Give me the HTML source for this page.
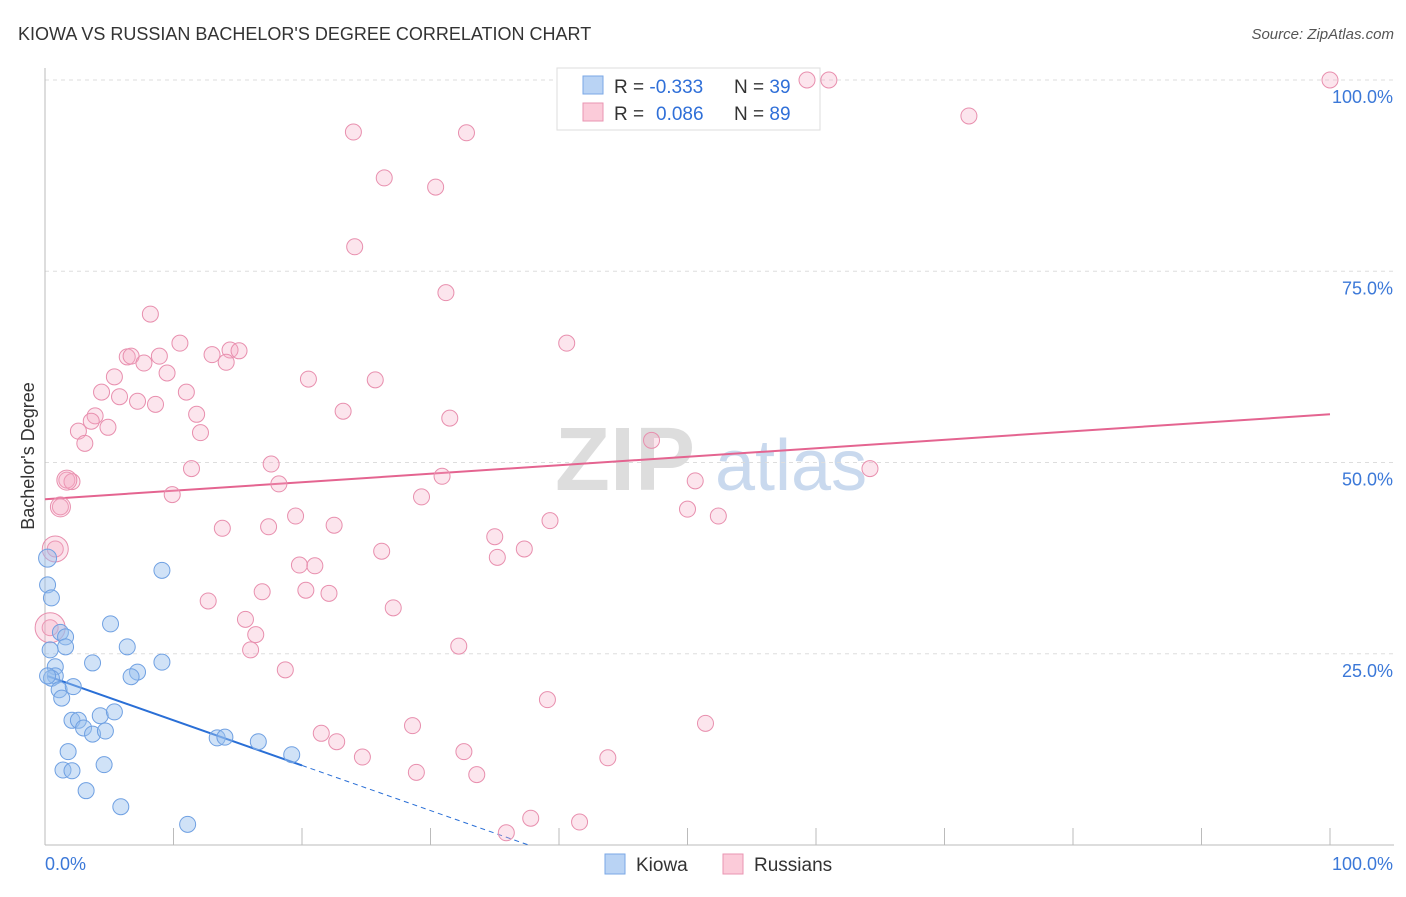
<!DOCTYPE html>
<html><head><meta charset="utf-8"><style>
body{margin:0;background:#fff;font-family:"Liberation Sans",sans-serif}
svg text{font-family:"Liberation Sans",sans-serif}
</style></head><body>
<svg id="chart" width="1406" height="892" viewBox="0 0 1406 892">
<text x="18" y="40" font-size="18" fill="#333">KIOWA VS RUSSIAN BACHELOR'S DEGREE CORRELATION CHART</text>
<text x="1394" y="39" font-size="15" fill="#555" text-anchor="end" font-style="italic">Source: ZipAtlas.com</text>
<text transform="translate(34,456) rotate(-90)" font-size="18" fill="#333" text-anchor="middle">Bachelor's Degree</text>
<g><text x="555" y="490" font-size="90" fill="#ddd" font-family="Liberation Serif" font-weight="bold">ZIP</text><text x="715" y="490" font-size="72" fill="#c9d9ee">atlas</text></g>
<g id="grid"></g><g id="axes"></g>
<g>
<rect x="557" y="68" width="263" height="62" fill="#fff" stroke="#ddd"/>
<rect x="583" y="76" width="20" height="18" fill="#b9d3f4" stroke="#7aa7e6"/>
<rect x="583" y="103" width="20" height="18" fill="#fbcbd9" stroke="#e995b2"/>
<text x="614" y="93" font-size="19" fill="#333">R = <tspan fill="#2f6fd8">-0.333</tspan><tspan x="734">N = </tspan><tspan fill="#2f6fd8">39</tspan></text>
<text x="614" y="120" font-size="19" fill="#333">R = <tspan fill="#2f6fd8" x="656">0.086</tspan><tspan x="734">N = </tspan><tspan fill="#2f6fd8">89</tspan></text>
</g>
<g id="trend"></g><g id="pts"></g>
<g>
<rect x="605" y="854" width="20" height="20" fill="#b9d3f4" stroke="#7aa7e6"/>
<text x="636" y="871" font-size="19" fill="#333">Kiowa</text>
<rect x="723" y="854" width="20" height="20" fill="#fbcbd9" stroke="#e995b2"/>
<text x="754" y="871" font-size="19" fill="#333">Russians</text>
</g>
</svg>
<script>
const yTicks=[25,50,75,100];
const yTickLabels=["25.0%","50.0%","75.0%","100.0%"];
const xTickVals=[0,10,20,30,40,50,60,70,80,90,100];
const kiowaX=[0.2,0.2,0.5,1.2,1.6,1.6,0.4,0.8,0.8,0.5,1.1,2.2,1.3,5.1,6.4,3.7,9.1,9.1,7.2,6.7,2.1,2.6,3.0,3.7,4.3,4.7,5.4,1.8,1.4,2.1,4.6,3.2,5.9,11.1,13.4,14.0,16.6,19.2,0.2];
const kiowaY=[37.5,34.0,32.3,27.8,27.2,25.9,25.5,23.3,22.1,21.8,20.3,20.7,19.2,28.9,25.9,23.8,35.9,23.9,22.6,22.0,16.3,16.3,15.3,14.5,16.9,14.9,17.4,12.2,9.8,9.7,10.5,7.1,5.0,2.7,14.0,14.1,13.5,11.8,22.1];
const russX=[59.3,61.0,100,71.9,24.0,32.8,26.4,30.4,24.1,31.2,8.2,10.5,40.6,6.4,6.7,8.9,13.0,14.4,15.1,14.1,7.7,9.5,5.4,20.5,25.7,4.4,11.0,5.8,7.2,8.6,23.2,11.8,3.9,3.6,31.5,4.9,2.6,12.1,3.1,47.2,17.6,11.4,64.2,30.9,1.7,2.1,18.2,50.6,9.9,29.3,1.2,50.0,52.4,19.5,39.3,13.8,17.4,22.5,35.0,0.8,26.2,37.3,35.2,19.8,21.0,16.9,20.3,22.1,12.7,27.1,15.6,0.4,16.4,16.0,32.2,18.7,39.1,28.6,51.4,21.5,22.7,32.6,24.7,43.8,28.9,33.6,37.8,41.6,35.9];
const russY=[100,100,100,95.3,93.2,93.1,87.2,86.0,78.2,72.2,69.4,65.6,65.6,63.8,63.9,63.9,64.1,64.7,64.6,63.1,63.0,61.7,61.2,60.9,60.8,59.2,59.2,58.6,58.0,57.6,56.7,56.3,56.1,55.4,55.8,54.6,54.1,53.9,52.5,52.9,49.8,49.2,49.2,48.2,47.7,47.5,47.2,47.6,45.8,45.5,44.2,43.9,43.0,43.0,42.4,41.4,41.6,41.8,40.3,38.7,38.4,38.7,37.6,36.6,36.5,33.1,33.3,32.9,31.9,31.0,29.5,28.4,27.5,25.5,26.0,22.9,19.0,15.6,15.9,14.6,13.5,12.2,11.5,11.4,9.5,9.2,3.5,3.0,1.6];
const russBig=[[0.8,38.7,13],[1.2,44.2,10],[0.4,28.4,15],[1.7,47.7,10]];
const kiowaTrend=[22.2,-0.59];
const russTrend=[45.2,0.111];
const NS="http://www.w3.org/2000/svg";
const X=v=>45+v*12.85, Y=v=>845-v*7.65;
function mk(tag,parent,attrs){const e=document.createElementNS(NS,tag);for(const k in attrs)e.setAttribute(k,attrs[k]);document.getElementById(parent).appendChild(e);return e;}
yTicks.forEach((t,i)=>{
 const l=mk('line','grid',{x1:45,x2:1394,y1:Y(t),y2:Y(t),stroke:'#ddd','stroke-dasharray':'4,4'});
 
 
 const tx=mk('text','grid',{x:1393,y:Y(t)+23,'font-size':18,fill:'#3b78d8','text-anchor':'end'});
 tx.textContent=yTickLabels[i];
 
 
});
let a=mk('line','axes',{x1:45,x2:45,y1:68,y2:845,stroke:'#bbb'});


a=mk('line','axes',{x1:45,x2:1394,y1:845,y2:845,stroke:'#bbb'});


xTickVals.forEach(v=>{const t=mk('line','axes',{x1:X(v),x2:X(v),y1:828,y2:845,stroke:'#bbb'});
 
 });
let t0=mk('text','axes',{x:45,y:870,'font-size':18,fill:'#3b78d8'});t0.textContent='0.0%';


let t1=mk('text','axes',{x:1393,y:870,'font-size':18,fill:'#3b78d8','text-anchor':'end'});t1.textContent='100.0%';


russX.forEach((x,i)=>{const c=mk('circle','pts',{cx:X(x),cy:Y(russY[i]),r:8,fill:'rgba(244,170,195,0.3)',stroke:'#e88fae','stroke-width':1});
 
 });
russBig.forEach(p=>{const c=mk('circle','pts',{cx:X(p[0]),cy:Y(p[1]),r:p[2],fill:'rgba(244,170,195,0.3)',stroke:'#e88fae'});
 
 });
kiowaX.forEach((x,i)=>{const c=mk('circle','pts',{cx:X(x),cy:Y(kiowaY[i]),r:i==0?9:8,fill:'rgba(150,190,238,0.45)',stroke:'#6fa0e2','stroke-width':1});
 
 });
const kf=v=>kiowaTrend[0]+kiowaTrend[1]*v, rf=v=>russTrend[0]+russTrend[1]*v;
let l=mk('line','trend',{x1:X(0.2),y1:Y(kf(0.2)),x2:X(20),y2:Y(kf(20)),stroke:'#2a6fd6','stroke-width':2});


const xEnd=-kiowaTrend[0]/kiowaTrend[1];
l=mk('line','trend',{x1:X(20),y1:Y(kf(20)),x2:X(xEnd),y2:Y(0),stroke:'#2a6fd6','stroke-width':1,'stroke-dasharray':'5,4'});


l=mk('line','trend',{x1:X(0),y1:Y(rf(0)),x2:X(100),y2:Y(rf(100)),stroke:'#e46490','stroke-width':2});


</script>
</body></html>
